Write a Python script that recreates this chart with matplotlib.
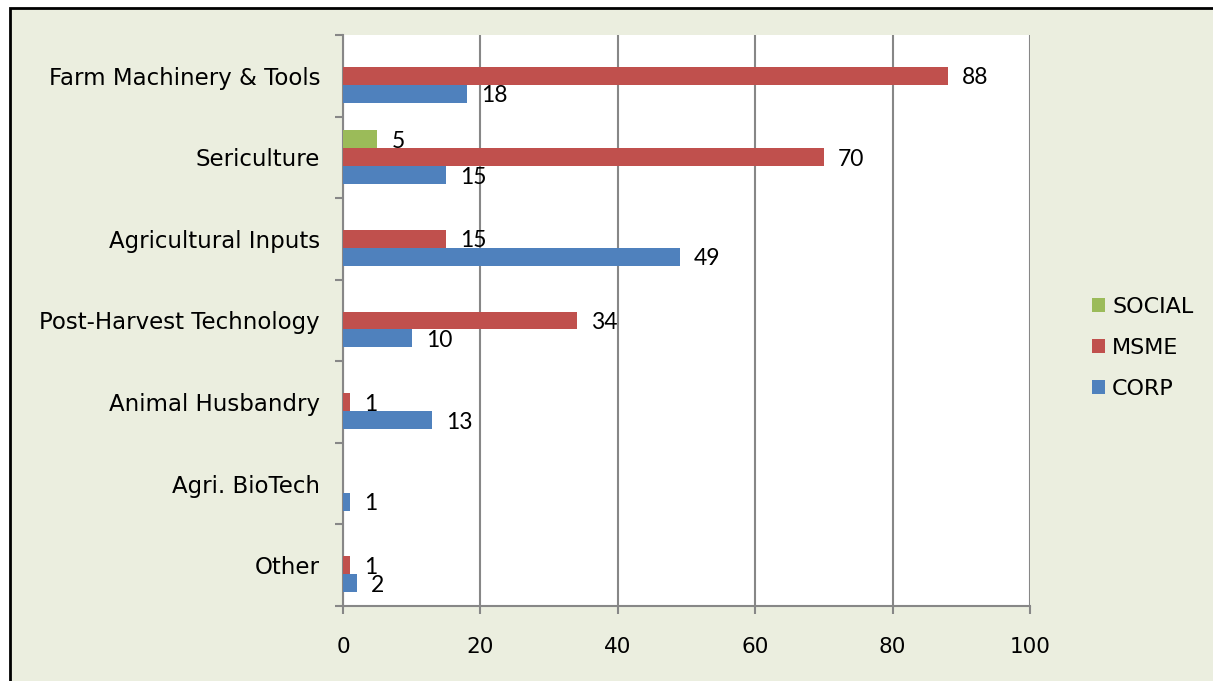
import matplotlib.pyplot as plt
import numpy as np
from matplotlib.patches import Rectangle

# data, top to bottom as in the chart
categories = ["Farm Machinery & Tools", "Sericulture", "Agricultural Inputs",
              "Post-Harvest Technology", "Animal Husbandry", "Agri. BioTech", "Other"]
social = [0, 5, 0, 0, 0, 0, 0]
msme = [88, 70, 15, 34, 1, 0, 1]
corp = [18, 15, 49, 10, 13, 1, 2]

series = [("SOCIAL", social, "#9BBB59"), ("MSME", msme, "#C0504D"), ("CORP", corp, "#4F81BD")]

bg = "#EBEEDF"
grid_c = "#878787"

fig = plt.figure(figsize=(12.13, 6.81), dpi=100, facecolor="white")
# beige panel with black frame (cropped at right/bottom)
fig.patches.append(Rectangle((10 / 1213, -0.1), 1.2, 1.1 - 8 / 681, transform=fig.transFigure,
                             facecolor=bg, edgecolor="black", linewidth=2, zorder=-10))

ax = fig.add_axes([343 / 1213, 1 - 606 / 681, 687 / 1213, 571 / 681])
ax.set_facecolor("white")

n = len(categories)
y = np.arange(n)[::-1]   # first category on top
h = 0.22
offsets = [h, 0, -h]

for (name, vals, col), off in zip(series, offsets):
    ax.barh(y + off, vals, height=h, color=col, label=name, zorder=3)
    for yi, v in zip(y, vals):
        if v > 0:
            ax.annotate(str(v), (v, yi + off), xytext=(14, -2), textcoords="offset pixels",
                        ha="left", va="center", fontsize=16.5, family="Lato", color="black")

ax.set_xlim(0, 100)
ax.set_ylim(-0.5, n - 0.5)
ax.set_xticks(np.arange(0, 101, 20))
ax.set_yticks(y)
ax.set_yticklabels(categories)
ax.set_yticks(np.arange(-0.5, n, 1), minor=True)
ax.tick_params(axis="y", which="major", length=0, pad=16.5, labelsize=16.5)
ax.tick_params(axis="y", which="minor", length=6, width=1.5, color=grid_c)
ax.tick_params(axis="x", length=6, width=1.5, color=grid_c, pad=16, labelsize=15.5)

ax.grid(axis="x", color=grid_c, linewidth=1.5, zorder=0)
for s in ["top", "right"]:
    ax.spines[s].set_visible(False)
for s in ["left", "bottom"]:
    ax.spines[s].set_color(grid_c)
    ax.spines[s].set_linewidth(1.5)

ax.legend(loc="center left", bbox_to_anchor=(1072 / 1213, 1 - 348 / 681),
          bbox_transform=fig.transFigure, frameon=False, fontsize=16,
          handlelength=0.6, handleheight=0.6, handletextpad=0.3, labelspacing=0.95)

fig.savefig("out.png", dpi=100, facecolor=fig.get_facecolor())
